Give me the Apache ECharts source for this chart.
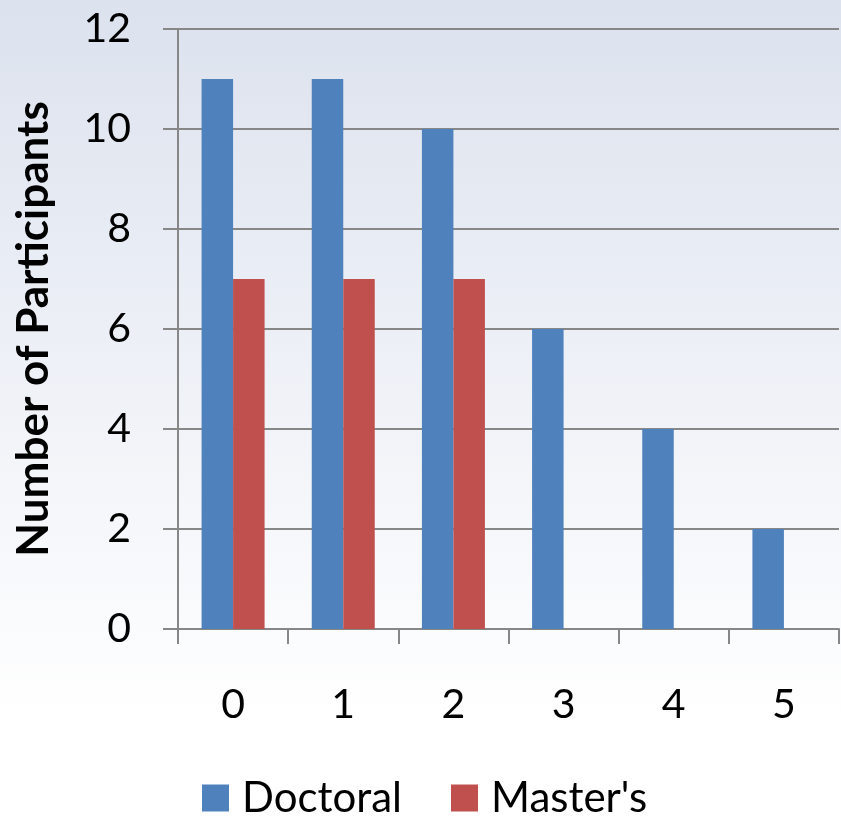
<!DOCTYPE html>
<html>
<head>
<meta charset="utf-8">
<script src="https://cdn.jsdelivr.net/npm/echarts@6/dist/echarts.min.js"></script>
<style>
  html, body { margin: 0; padding: 0; }
  #chart { width: 841px; height: 817px; }
</style>
</head>
<body>
<div id="chart"></div>
<script>
// Participants per category, split by degree program
const categories = ['0', '1', '2', '3', '4', '5'];
const doctoral = [11, 11, 10, 6, 4, 2];
const masters = [7, 7, 7, 0, 0, 0];
const seriesNames = ['Doctoral', "Master's"];
const yTicks = { min: 0, max: 12, interval: 2 };

const FONT = 'Lato, "Open Sans", sans-serif';
const GRAY = '#878787';

const chart = echarts.init(document.getElementById('chart'), null, { renderer: 'canvas' });
chart.setOption({
  backgroundColor: new echarts.graphic.LinearGradient(0, 0, 0, 1, [
    { offset: 0, color: '#dce2ee' },
    { offset: 0.88, color: '#ffffff' },
    { offset: 1, color: '#ffffff' }
  ]),
  animation: false,
  textStyle: { fontFamily: FONT },
  grid: { left: 178, right: 2, top: 29, bottom: 188, containLabel: false, outerBoundsMode: 'none' },
  legend: {
    top: 777,
    left: 202,
    padding: 0,
    itemWidth: 27,
    itemHeight: 27,
    itemGap: 49,
    icon: 'rect',
    textStyle: { fontSize: 42, lineHeight: 42, color: '#000', fontFamily: FONT, padding: [0, 0, 0, 8] },
    data: seriesNames
  },
  xAxis: {
    type: 'category',
    data: categories,
    axisLine: { lineStyle: { color: GRAY, width: 2 } },
    axisTick: { show: true, length: 15, inside: false, lineStyle: { color: GRAY, width: 2 } },
    axisLabel: { fontSize: 41, lineHeight: 41, color: '#000', margin: 55, fontFamily: FONT },
    splitLine: { show: false }
  },
  yAxis: {
    type: 'value',
    min: yTicks.min,
    max: yTicks.max,
    interval: yTicks.interval,
    name: 'Number of Participants',
    nameLocation: 'middle',
    nameGap: 122,
    nameTextStyle: { fontSize: 44, fontWeight: 'bold', color: '#000', fontFamily: FONT },
    axisLine: { show: true, lineStyle: { color: GRAY, width: 2 } },
    axisTick: { show: true, length: 15, lineStyle: { color: GRAY, width: 2 } },
    axisLabel: { fontSize: 41, color: '#000', margin: 47, fontFamily: FONT },
    splitLine: { show: true, lineStyle: { color: GRAY, width: 2 } }
  },
  series: [
    {
      name: seriesNames[0],
      type: 'bar',
      data: doctoral,
      itemStyle: { color: '#4f81bd' },
      barWidth: 31.5,
      barGap: '0%'
    },
    {
      name: seriesNames[1],
      type: 'bar',
      data: masters,
      itemStyle: { color: '#c0504d' },
      barWidth: 31.5,
      barGap: '0%'
    }
  ]
});
</script>
</body>
</html>
